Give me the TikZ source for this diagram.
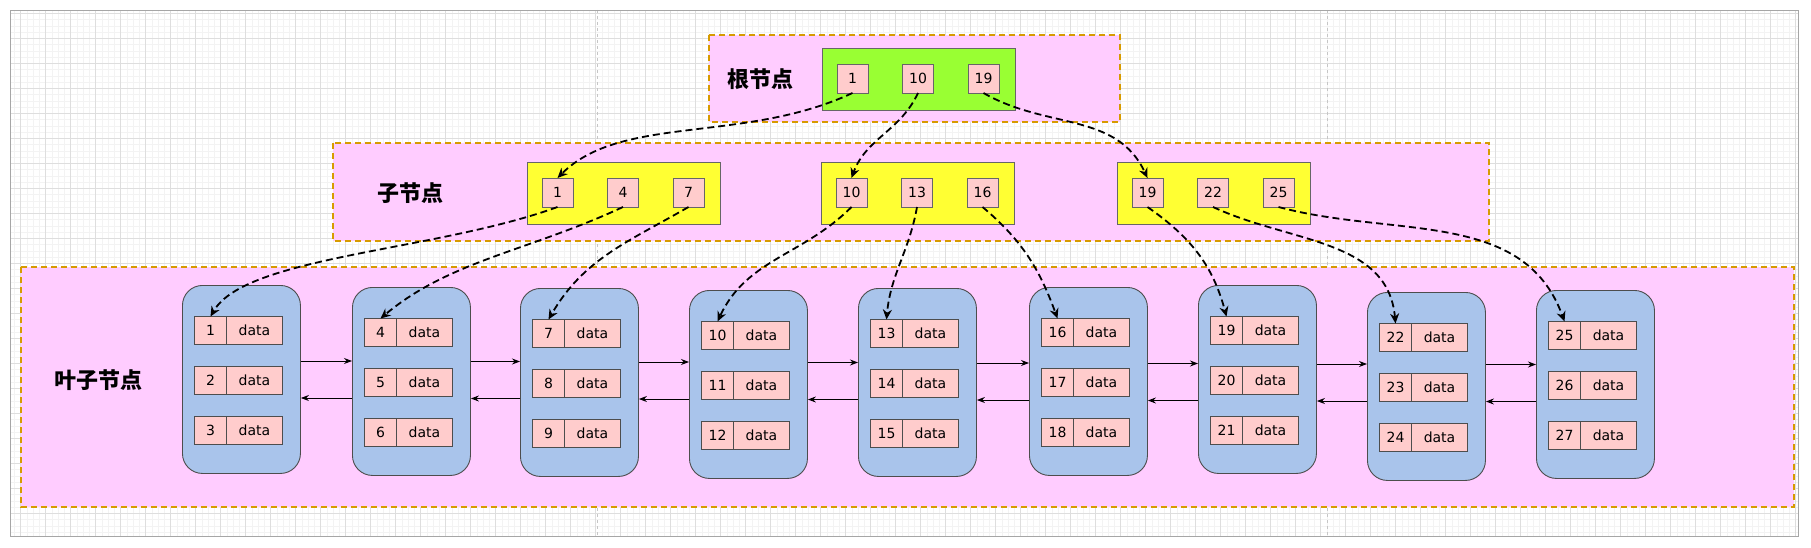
\documentclass[tikz,border=0pt]{standalone}
\usepackage{fontspec}
\setmainfont{DejaVu Sans}
\newfontfamily\cjk{Noto Sans CJK SC}
\usepackage{tikz}
\usepackage{xcolor}
\usetikzlibrary{arrows.meta,positioning,calc}
\definecolor{layerpink}{HTML}{FFCCFF}
\definecolor{layerline}{HTML}{D79B00}
\definecolor{rootgreen}{HTML}{99FF33}
\definecolor{midyellow}{HTML}{FFFF33}
\definecolor{keypink}{HTML}{FFCCCC}
\definecolor{leafblue}{HTML}{A9C4EB}
\definecolor{boxline}{HTML}{666666}
\definecolor{leafline}{HTML}{4D4D4D}
\definecolor{gridminor}{HTML}{F3F3F3}
\definecolor{gridmajor}{HTML}{DEDEDE}
\tikzset{
  layer/.style={draw=layerline,fill=layerpink,line width=1.4pt,
                dash pattern=on 6pt off 4pt},
  layertitle/.style={font=\cjk\bfseries\fontsize{22}{26}\selectfont},
  rootbox/.style={draw=boxline,fill=rootgreen,line width=0.9pt,inner sep=0pt,
                  minimum width=193pt,minimum height=62pt,anchor=north west},
  midbox/.style={rootbox,fill=midyellow},
  keybox/.style={draw=boxline,fill=keypink,line width=0.9pt,inner sep=0pt,
                 outer sep=0pt,minimum width=31pt,minimum height=29pt,
                 anchor=north west,font=\fontsize{14}{16}\selectfont},
  leafbox/.style={draw=leafline,fill=leafblue,line width=0.9pt,rounded corners=20pt,
                  minimum width=118pt,minimum height=188pt,anchor=north west},
  cellkey/.style={keybox,draw=leafline,minimum width=32pt,minimum height=28pt},
  celldata/.style={cellkey,minimum width=56pt},
  ptr/.style={-{Stealth[length=10pt,width=9pt]},line width=1.8pt,
              dash pattern=on 7pt off 4pt},
  link/.style={-{Stealth[length=8pt,width=6pt]},line width=1pt}
}

\begin{document}
\begin{tikzpicture}[x=1pt,y=1pt]
    \useasboundingbox (0,0) rectangle (1811,-548);
    % canvas
    \begin{scope}[shift={(20.7,-13.3)}]
      \draw[gridminor,line width=0.5pt,step=6.25] (-10.7,3.3) grid (1777.3,-522.7);
      \draw[gridmajor,line width=0.7pt,step=25] (-10.7,3.3) grid (1777.3,-522.7);
    \end{scope}
    \draw[gray!45,dashed,line width=0.8pt] (597,-10) -- (597,-536);
    \draw[gray!45,dashed,line width=0.8pt] (1327,-10) -- (1327,-536);
    \draw[gray!70,line width=0.8pt] (10,-10) rectangle (1798,-536);
    % layers
    \draw[layer] (709,-35) rectangle (1120,-122);
    \draw[layer] (333,-143) rectangle (1489,-241);
    \draw[layer] (21,-267) rectangle (1794,-507);
    \node[layertitle] (roottitle) at (760,-79) {根节点};
    \node[layertitle] (midtitle) at (410,-193) {子节点};
    \node[layertitle] (leaftitle) at (98,-380) {叶子节点};
    % root
    \node[rootbox] (root) at (822,-48) {};
    \foreach \k/\j in {1/0,10/1,19/2}{
      \node[keybox] (r\k) at (837+65.5*\j,-64) {\k};
    }
    % inner nodes
    \foreach \b/\bx in {0/527,1/821,2/1117}{
      \node[midbox] (m\b) at (\bx,-162) {};
      \foreach \j in {0,1,2}{
        \pgfmathtruncatemacro\v{9*\b+3*\j+1}
        \node[keybox] (c\v) at (\bx+15+65.5*\j,-178) {\v};
      }
    }
    % leaves
    \foreach \i/\lx/\ly in {0/182/285,1/352/287,2/520/288,3/689/290,4/858/288,
                            5/1029/287,6/1198/285,7/1367/292,8/1536/290}{
      \node[leafbox] (l\i) at (\lx,-\ly) {};
      \foreach \r in {0,1,2}{
        \pgfmathtruncatemacro\v{3*\i+\r+1}
        \node[cellkey] (k\v) at (\lx+12.5,-\ly-31.5-50*\r) {\v};
        \node[celldata,right=0pt of k\v] (d\v) {data};
      }
    }
    \foreach \i [evaluate=\i as \j using int(\i+1),
                 evaluate=\i as \ya using -361-0.5*\i,
                 evaluate=\i as \yb using -398-0.5*\i] in {0,...,7}{
      \draw[link] (l\i.east |- 0,\ya) -- (l\j.west |- 0,\ya);
      \draw[link] (l\j.west |- 0,\yb) -- (l\i.east |- 0,\yb);
    }
    % pointers
    \foreach \a/\b/\o/\od/\n/\nd in {r1/c1/205/120/45/90,r10/c10/245/42/70/42,
                                     r19/c19/-30/73/115/73}{
      \draw[ptr] (\a.south) to[out=\o,out distance=\od,in=\n,in distance=\nd] (\b.north);
    }
    \foreach \v/\o/\od/\n/\nd in {1/200/130/60/70,4/205/104/40/90,7/210/70/60/70,
                                  10/225/69/65/69,13/260/45/85/45,16/-40/52/110/52,
                                  19/-35/53/105/53,22/-25/85/95/85,25/-15/120/110/120}{
      \draw[ptr] (c\v.south) to[out=\o,out distance=\od,in=\n,in distance=\nd] (k\v.north);
    }
\end{tikzpicture}
\end{document}
